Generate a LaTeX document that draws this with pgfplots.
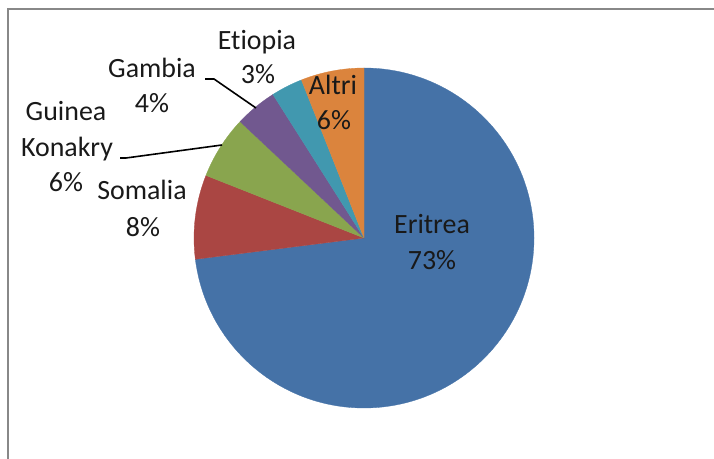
\documentclass[border=0pt]{standalone}
\usepackage{pgfplots}
\pgfplotsset{compat=1.18}
\usepackage{fontspec}
\setmainfont{Carlito}[RawFeature=-liga]
\newfontfamily\serifp{Liberation Serif}
\newcommand\lblfont{\fontsize{28}{34}\selectfont}
\definecolor{cA}{HTML}{4572A7}
\definecolor{cB}{HTML}{AA4643}
\definecolor{cC}{HTML}{89A54E}
\definecolor{cD}{HTML}{71588F}
\definecolor{cE}{HTML}{4198AF}
\definecolor{cF}{HTML}{DB843D}
\definecolor{frame}{HTML}{888888}
\tikzset{lab/.style={font=\lblfont, text=black!90, inner sep=0pt, anchor=base}}
\begin{document}
\begin{tikzpicture}
\begin{axis}[
  at={(0,0)}, anchor=south west,
  scale only axis, width=714bp, height=459bp,
  xmin=0, xmax=714, ymin=0, ymax=459,
  enlargelimits=false, hide axis, clip=false,
]
\coordinate (bl) at (axis cs:0,0);
\coordinate (tr) at (axis cs:714,459);
% pie slices: Eritrea, Somalia, Guinea Konakry, Gambia, Etiopia, Altri
\gdef\cum{0}
\foreach \v/\col in {73/cA,8/cB,6/cC,4/cD,3/cE,6/cF}{
  \pgfmathsetmacro\sa{90-3.6*\cum}
  \pgfmathsetmacro\ea{90-3.6*(\cum+\v)}
  \pgfmathsetmacro\nc{\cum+\v}\xdef\cum{\nc}
  \edef\temp{\noexpand\filldraw[\col, line width=0.3bp, line join=round] (axis cs:364,221) -- ++(\sa:170bp) arc[start angle=\sa, end angle=\ea, radius=170bp] -- cycle;}
  \temp
}
% frame
\draw[frame, line width=2bp] (axis cs:8,0) -- (axis cs:8,449.5) -- (axis cs:714,449.5);
% cut-off title fragment
\node[font=\serifp\fontsize{20}{24}\selectfont, inner sep=0pt, anchor=base west] at (axis cs:279.5,463) {p};
% leader lines
\draw[black, line width=1.6bp] (axis cs:205,380) -- (axis cs:214,380) -- (axis cs:256,351);
\draw[black, line width=1.6bp] (axis cs:120,301) -- (axis cs:126,301) -- (axis cs:222,314);
% labels
\node[lab] at (axis cs:432,225) {Eritrea};
\node[lab] at (axis cs:432,189) {73\%};
\node[lab] at (axis cs:333,364) {Altri};
\node[lab] at (axis cs:334,329) {6\%};
\node[lab] at (axis cs:257,409.5) {Etiopia};
\node[lab] at (axis cs:258,375) {3\%};
\node[lab] at (axis cs:152,381) {Gambia};
\node[lab] at (axis cs:152,346) {4\%};
\node[lab] at (axis cs:66,338) {Guinea};
\node[lab] at (axis cs:67,302) {Konakry};
\node[lab] at (axis cs:66,267) {6\%};
\node[lab] at (axis cs:142,259) {Somalia};
\node[lab] at (axis cs:143,222) {8\%};
\end{axis}
\pgfresetboundingbox
\useasboundingbox (bl) rectangle (tr);
\end{tikzpicture}
\end{document}
